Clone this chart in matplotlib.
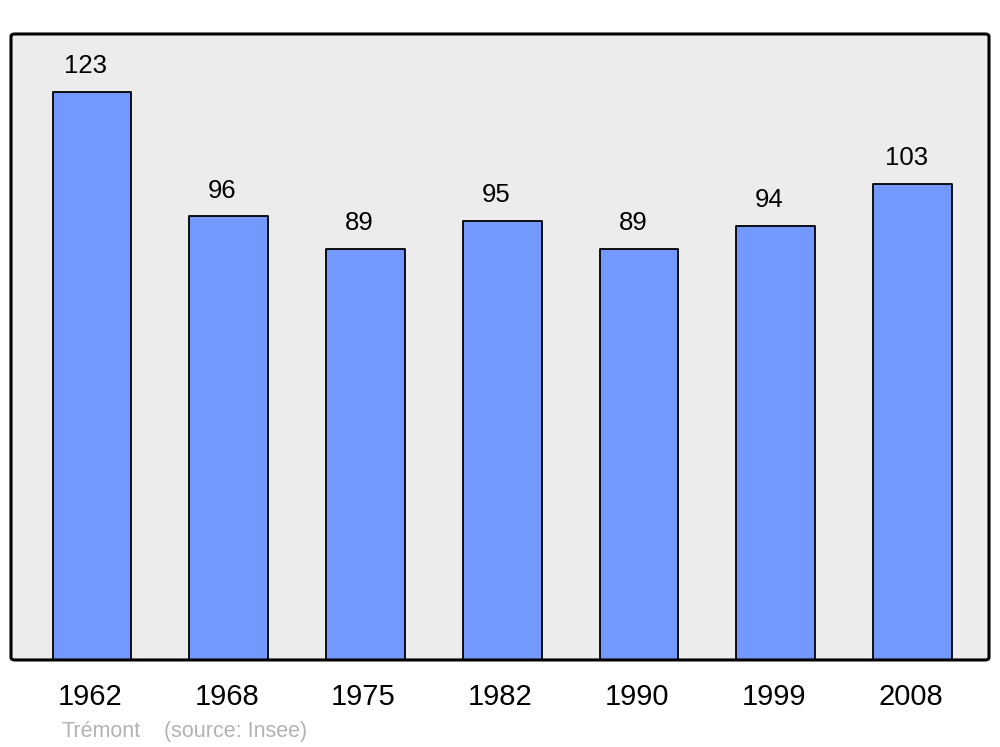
import matplotlib
matplotlib.use("Agg")
import matplotlib.pyplot as plt
from matplotlib.patches import FancyBboxPatch
from matplotlib.transforms import ScaledTranslation

years = ["1962", "1968", "1975", "1982", "1990", "1999", "2008"]
population = [123, 96, 89, 95, 89, 94, 103]
commune = "Trémont"
source = "(source: Insee)"

plt.rcParams['font.family'] = ['Liberation Sans', 'DejaVu Sans']

fig = plt.figure(figsize=(10, 7.47), dpi=100)
ax = fig.add_axes([0.011, 0.1165, 0.978, 0.838])
ax.patch.set_visible(False)
for s in ax.spines.values():
    s.set_visible(False)

bg = FancyBboxPatch((0, 0), 1, 1, boxstyle="round,pad=0,rounding_size=0.004",
                    transform=ax.transAxes, facecolor="#ececec", edgecolor="none",
                    zorder=0, clip_on=False)
ax.add_patch(bg)
frame = FancyBboxPatch((0, 0), 1, 1, boxstyle="round,pad=0,rounding_size=0.004",
                       transform=ax.transAxes, facecolor="none", edgecolor="black",
                       linewidth=2.2, zorder=5, clip_on=False)
ax.add_patch(frame)

x = list(range(len(years)))
bars = ax.bar(x, population, width=0.575, color="#7399ff", edgecolor="black",
              linewidth=1.3, zorder=2)
for b in bars:
    b.set_joinstyle("round")

for xi, v in zip(x, population):
    ax.annotate(str(v), (xi, v), xytext=(-4.5, 18.5), textcoords="offset points",
                ha="center", va="center", fontsize=18.5, color="black")

ax.set_xlim(-0.592, 6.559)
ax.set_ylim(0, 135.5)
ax.set_yticks([])
ax.set_xticks(x)
ax.set_xticklabels(years, fontsize=21)
ax.tick_params(axis='x', length=0, pad=16.5)
shift = ScaledTranslation(-2 / 100, 0, fig.dpi_scale_trans)
for lab in ax.get_xticklabels():
    lab.set_transform(lab.get_transform() + shift)

fig.text(0.061, 0.0205, commune, color="#b3b3b3",
         fontsize=15.5, ha="left", va="center")
fig.text(0.164, 0.0205, source, color="#b3b3b3",
         fontsize=15.5, ha="left", va="center")

fig.savefig("out.png", dpi=100, facecolor="white")
